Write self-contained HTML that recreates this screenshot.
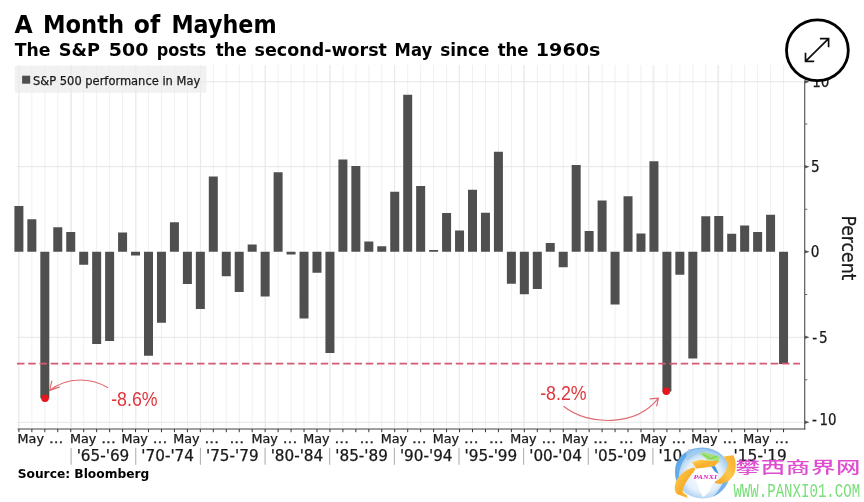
<!DOCTYPE html>
<html lang="en"><head><meta charset="utf-8"><title>A Month of Mayhem</title>
<style>html,body{margin:0;padding:0;background:#fff}body{width:864px;height:502px;overflow:hidden}svg{display:block}.b{font-family:"DejaVu Sans", "Liberation Sans", sans-serif;font-weight:bold;fill:#000}.c{font-family:"DejaVu Sans Condensed", "DejaVu Sans", "Liberation Sans", sans-serif;fill:#1a1a1a;stroke:#1a1a1a;stroke-width:0.25px}.r{font-family:"Liberation Sans",sans-serif;fill:#e0353b}</style></head><body>
<svg width="864" height="502" viewBox="0 0 864 502">
<rect width="864" height="502" fill="#fff"/>
<defs><filter id="soft" x="0" y="0" width="864" height="502" filterUnits="userSpaceOnUse"><feGaussianBlur stdDeviation="0.4"/></filter></defs>
<g filter="url(#soft)">
<path d="M18.90 65V428M31.86 65V428M44.82 65V428M57.78 65V428M70.74 65V428M83.70 65V428M96.66 65V428M109.62 65V428M122.58 65V428M135.54 65V428M148.50 65V428M161.46 65V428M174.42 65V428M187.38 65V428M200.34 65V428M213.30 65V428M226.26 65V428M239.22 65V428M252.18 65V428M265.14 65V428M278.10 65V428M291.06 65V428M304.02 65V428M316.98 65V428M329.94 65V428M342.90 65V428M355.86 65V428M368.82 65V428M381.78 65V428M394.74 65V428M407.70 65V428M420.66 65V428M433.62 65V428M446.58 65V428M459.54 65V428M472.50 65V428M485.46 65V428M498.42 65V428M511.38 65V428M524.34 65V428M537.30 65V428M550.26 65V428M563.22 65V428M576.18 65V428M589.14 65V428M602.10 65V428M615.06 65V428M628.02 65V428M640.98 65V428M653.94 65V428M666.90 65V428M679.86 65V428M692.82 65V428M705.78 65V428M718.74 65V428M731.70 65V428M744.66 65V428M757.62 65V428M770.58 65V428M783.54 65V428" stroke="#f0f0f0" stroke-width="1" fill="none"/>
<path d="M71.30 65V428M135.95 65V428M200.60 65V428M265.25 65V428M329.90 65V428M394.55 65V428M459.20 65V428M523.85 65V428M588.50 65V428M653.15 65V428M717.80 65V428M18.9 65V428" stroke="#e9e9e9" stroke-width="1" fill="none"/>
<path d="M17 81.80H804M17 166.70H804M17 337.30H804M17 422.30H804" stroke="#e6e6e6" stroke-width="1" fill="none"/>
<rect x="14.8" y="65.8" width="191.8" height="26.9" rx="1.5" fill="#ebebeb" fill-opacity="0.72"/>
<rect x="22.1" y="75.7" width="8.1" height="8" fill="#4f4f4f"/>
<text class="c" x="33" y="84.8" font-size="12.8" textLength="167.2" lengthAdjust="spacingAndGlyphs">S&amp;P 500 performance in May</text>
<path d="M14.40 206.01h9.0V251.70h-9.0zM27.36 219.13h9.0V251.70h-9.0zM40.32 251.70h9.0V398.33h-9.0zM53.28 227.32h9.0V251.70h-9.0zM66.24 232.09h9.0V251.70h-9.0zM79.20 251.70h9.0V264.83h-9.0zM92.16 251.70h9.0V343.94h-9.0zM105.12 251.70h9.0V341.04h-9.0zM118.08 232.60h9.0V251.70h-9.0zM131.04 251.70h9.0V255.45h-9.0zM144.00 251.70h9.0V355.70h-9.0zM156.96 251.70h9.0V322.63h-9.0zM169.92 222.20h9.0V251.70h-9.0zM182.88 251.70h9.0V283.92h-9.0zM195.84 251.70h9.0V308.99h-9.0zM208.80 176.51h9.0V251.70h-9.0zM221.76 251.70h9.0V276.25h-9.0zM234.72 251.70h9.0V291.94h-9.0zM247.68 244.54h9.0V251.70h-9.0zM260.64 251.70h9.0V296.54h-9.0zM273.60 172.25h9.0V251.70h-9.0zM286.56 251.70h9.0V254.60h-9.0zM299.52 251.70h9.0V318.54h-9.0zM312.48 251.70h9.0V272.67h-9.0zM325.44 251.70h9.0V352.98h-9.0zM338.40 159.46h9.0V251.70h-9.0zM351.36 166.11h9.0V251.70h-9.0zM364.32 241.47h9.0V251.70h-9.0zM377.28 246.24h9.0V251.70h-9.0zM390.24 191.85h9.0V251.70h-9.0zM403.20 94.84h9.0V251.70h-9.0zM416.16 185.89h9.0V251.70h-9.0zM429.12 249.99h9.0V251.70h-9.0zM442.08 213.00h9.0V251.70h-9.0zM455.04 230.56h9.0V251.70h-9.0zM468.00 189.81h9.0V251.70h-9.0zM480.96 212.66h9.0V251.70h-9.0zM493.92 151.79h9.0V251.70h-9.0zM506.88 251.70h9.0V283.75h-9.0zM519.84 251.70h9.0V294.32h-9.0zM532.80 251.70h9.0V289.04h-9.0zM545.76 243.00h9.0V251.70h-9.0zM558.72 251.70h9.0V267.22h-9.0zM571.68 164.92h9.0V251.70h-9.0zM584.64 231.07h9.0V251.70h-9.0zM597.60 200.55h9.0V251.70h-9.0zM610.56 251.70h9.0V304.38h-9.0zM623.52 196.29h9.0V251.70h-9.0zM636.48 233.46h9.0V251.70h-9.0zM649.44 161.16h9.0V251.70h-9.0zM662.40 251.70h9.0V391.51h-9.0zM675.36 251.70h9.0V274.72h-9.0zM688.32 251.70h9.0V358.60h-9.0zM701.28 216.24h9.0V251.70h-9.0zM714.24 215.89h9.0V251.70h-9.0zM727.20 233.80h9.0V251.70h-9.0zM740.16 225.61h9.0V251.70h-9.0zM753.12 231.92h9.0V251.70h-9.0zM766.08 214.87h9.0V251.70h-9.0zM779.04 251.70h9.0V363.89h-9.0z" fill="#4f4f4f"/>
<path d="M17 363.6H800" stroke="#d35a70" stroke-width="1.9" stroke-dasharray="7.5 3.75" fill="none"/>
<path d="M17.5 429H805.3" stroke="#444" stroke-width="1.2" fill="none"/>
<path d="M804.7 80.5V429.5" stroke="#5a5a5a" stroke-width="1.2" fill="none"/>
<path d="M18.90 429V432.2M31.86 429V432.2M44.82 429V432.2M57.78 429V432.2M70.74 429V432.2M83.70 429V432.2M96.66 429V432.2M109.62 429V432.2M122.58 429V432.2M135.54 429V432.2M148.50 429V432.2M161.46 429V432.2M174.42 429V432.2M187.38 429V432.2M200.34 429V432.2M213.30 429V432.2M226.26 429V432.2M239.22 429V432.2M252.18 429V432.2M265.14 429V432.2M278.10 429V432.2M291.06 429V432.2M304.02 429V432.2M316.98 429V432.2M329.94 429V432.2M342.90 429V432.2M355.86 429V432.2M368.82 429V432.2M381.78 429V432.2M394.74 429V432.2M407.70 429V432.2M420.66 429V432.2M433.62 429V432.2M446.58 429V432.2M459.54 429V432.2M472.50 429V432.2M485.46 429V432.2M498.42 429V432.2M511.38 429V432.2M524.34 429V432.2M537.30 429V432.2M550.26 429V432.2M563.22 429V432.2M576.18 429V432.2M589.14 429V432.2M602.10 429V432.2M615.06 429V432.2M628.02 429V432.2M640.98 429V432.2M653.94 429V432.2M666.90 429V432.2M679.86 429V432.2M692.82 429V432.2M705.78 429V432.2M718.74 429V432.2M731.70 429V432.2M744.66 429V432.2M757.62 429V432.2M770.58 429V432.2M783.54 429V432.2" stroke="#333" stroke-width="1" fill="none"/>
<path d="M804.7 80.10L809.6 81.80L804.7 83.50ZM804.7 165.00L809.6 166.70L804.7 168.40ZM804.7 250.00L809.6 251.70L804.7 253.40ZM804.7 335.60L809.6 337.30L804.7 339.00ZM804.7 420.60L809.6 422.30L804.7 424.00Z" fill="#555"/>
<path d="M804.7 124.06h2.6M804.7 209.29h2.6M804.7 294.51h2.6M804.7 379.75h2.6" stroke="#666" stroke-width="1" fill="none"/>
<text class="c" x="812.2" y="87.3" font-size="15.1">10</text>
<text class="c" x="810.9" y="172.2" font-size="15.1">5</text>
<text class="c" x="810.7" y="256.9" font-size="15.1">0</text>
<text class="c" y="343" font-size="15.1"><tspan x="812.2">-</tspan><tspan x="818.9">5</tspan></text>
<text class="c" y="424.8" font-size="15.1"><tspan x="812.1">-</tspan><tspan x="819.4" textLength="17" lengthAdjust="spacingAndGlyphs">10</tspan></text>
<text class="c" transform="translate(842.4 215.4) rotate(90)" font-size="19.6" textLength="65" lengthAdjust="spacingAndGlyphs">Percent</text>
<text class="c" y="443.4" font-size="12.6" stroke="#1a1a1a" stroke-width="0.3"><tspan x="17.60" textLength="26.4" lengthAdjust="spacingAndGlyphs">May</tspan> <tspan x="49.00" textLength="14.4" lengthAdjust="spacingAndGlyphs">...</tspan></text>
<text class="c" y="443.4" font-size="12.6" stroke="#1a1a1a" stroke-width="0.3"><tspan x="69.90" textLength="26.4" lengthAdjust="spacingAndGlyphs">May</tspan> <tspan x="101.30" textLength="14.4" lengthAdjust="spacingAndGlyphs">...</tspan></text>
<text class="c" y="443.4" font-size="12.6" stroke="#1a1a1a" stroke-width="0.3"><tspan x="121.40" textLength="26.4" lengthAdjust="spacingAndGlyphs">May</tspan> <tspan x="152.80" textLength="14.4" lengthAdjust="spacingAndGlyphs">...</tspan></text>
<text class="c" y="443.4" font-size="12.6" stroke="#1a1a1a" stroke-width="0.3"><tspan x="173.15" textLength="26.4" lengthAdjust="spacingAndGlyphs">May</tspan> <tspan x="204.55" textLength="14.4" lengthAdjust="spacingAndGlyphs">...</tspan></text>
<text class="c" y="443.4" font-size="12.6" stroke="#1a1a1a" stroke-width="0.3"><tspan x="251.40" textLength="26.4" lengthAdjust="spacingAndGlyphs">May</tspan> <tspan x="282.80" textLength="14.4" lengthAdjust="spacingAndGlyphs">...</tspan></text>
<text class="c" y="443.4" font-size="12.6" stroke="#1a1a1a" stroke-width="0.3"><tspan x="303.15" textLength="26.4" lengthAdjust="spacingAndGlyphs">May</tspan> <tspan x="334.55" textLength="14.4" lengthAdjust="spacingAndGlyphs">...</tspan></text>
<text class="c" y="443.4" font-size="12.6" stroke="#1a1a1a" stroke-width="0.3"><tspan x="380.65" textLength="26.4" lengthAdjust="spacingAndGlyphs">May</tspan> <tspan x="412.05" textLength="14.4" lengthAdjust="spacingAndGlyphs">...</tspan></text>
<text class="c" y="443.4" font-size="12.6" stroke="#1a1a1a" stroke-width="0.3"><tspan x="432.65" textLength="26.4" lengthAdjust="spacingAndGlyphs">May</tspan> <tspan x="464.05" textLength="14.4" lengthAdjust="spacingAndGlyphs">...</tspan></text>
<text class="c" y="443.4" font-size="12.6" stroke="#1a1a1a" stroke-width="0.3"><tspan x="510.15" textLength="26.4" lengthAdjust="spacingAndGlyphs">May</tspan> <tspan x="541.55" textLength="14.4" lengthAdjust="spacingAndGlyphs">...</tspan></text>
<text class="c" y="443.4" font-size="12.6" stroke="#1a1a1a" stroke-width="0.3"><tspan x="561.90" textLength="26.4" lengthAdjust="spacingAndGlyphs">May</tspan> <tspan x="593.30" textLength="14.4" lengthAdjust="spacingAndGlyphs">...</tspan></text>
<text class="c" y="443.4" font-size="12.6" stroke="#1a1a1a" stroke-width="0.3"><tspan x="640.15" textLength="26.4" lengthAdjust="spacingAndGlyphs">May</tspan> <tspan x="671.55" textLength="14.4" lengthAdjust="spacingAndGlyphs">...</tspan></text>
<text class="c" y="443.4" font-size="12.6" stroke="#1a1a1a" stroke-width="0.3"><tspan x="691.15" textLength="26.4" lengthAdjust="spacingAndGlyphs">May</tspan> <tspan x="722.55" textLength="14.4" lengthAdjust="spacingAndGlyphs">...</tspan></text>
<text class="c" y="443.4" font-size="12.6" stroke="#1a1a1a" stroke-width="0.3"><tspan x="743.15" textLength="26.4" lengthAdjust="spacingAndGlyphs">May</tspan> <tspan x="774.55" textLength="14.4" lengthAdjust="spacingAndGlyphs">...</tspan></text>
<text class="c" x="229.50" y="443.4" font-size="12.6" stroke="#1a1a1a" stroke-width="0.3" textLength="14.6" lengthAdjust="spacingAndGlyphs">...</text>
<text class="c" x="359.50" y="443.4" font-size="12.6" stroke="#1a1a1a" stroke-width="0.3" textLength="14.6" lengthAdjust="spacingAndGlyphs">...</text>
<text class="c" x="489.00" y="443.4" font-size="12.6" stroke="#1a1a1a" stroke-width="0.3" textLength="14.6" lengthAdjust="spacingAndGlyphs">...</text>
<text class="c" x="619.00" y="443.4" font-size="12.6" stroke="#1a1a1a" stroke-width="0.3" textLength="14.6" lengthAdjust="spacingAndGlyphs">...</text>
<path d="M71.10 447.8V464.8M135.75 447.8V464.8M200.40 447.8V464.8M265.05 447.8V464.8M329.70 447.8V464.8M394.35 447.8V464.8M459.00 447.8V464.8M523.65 447.8V464.8M588.30 447.8V464.8M652.95 447.8V464.8M717.60 447.8V464.8" stroke="#aaa" stroke-width="1" fill="none"/>
<text class="c" x="76.70" y="460.9" font-size="15.1" textLength="52.6" lengthAdjust="spacingAndGlyphs">'65-'69</text>
<text class="c" x="141.35" y="460.9" font-size="15.1" textLength="52.6" lengthAdjust="spacingAndGlyphs">'70-'74</text>
<text class="c" x="206.00" y="460.9" font-size="15.1" textLength="52.6" lengthAdjust="spacingAndGlyphs">'75-'79</text>
<text class="c" x="270.65" y="460.9" font-size="15.1" textLength="52.6" lengthAdjust="spacingAndGlyphs">'80-'84</text>
<text class="c" x="335.30" y="460.9" font-size="15.1" textLength="52.6" lengthAdjust="spacingAndGlyphs">'85-'89</text>
<text class="c" x="399.95" y="460.9" font-size="15.1" textLength="52.6" lengthAdjust="spacingAndGlyphs">'90-'94</text>
<text class="c" x="464.60" y="460.9" font-size="15.1" textLength="52.6" lengthAdjust="spacingAndGlyphs">'95-'99</text>
<text class="c" x="529.25" y="460.9" font-size="15.1" textLength="52.6" lengthAdjust="spacingAndGlyphs">'00-'04</text>
<text class="c" x="593.90" y="460.9" font-size="15.1" textLength="52.6" lengthAdjust="spacingAndGlyphs">'05-'09</text>
<text class="c" x="658.55" y="460.9" font-size="15.1" textLength="52.6" lengthAdjust="spacingAndGlyphs">'10-'14</text>
<text class="c" x="733.6" y="460.9" font-size="15.1" textLength="53.2" lengthAdjust="spacingAndGlyphs">'15-'19</text>
<circle cx="45" cy="398.2" r="3.8" fill="#e8141c"/>
<circle cx="666.3" cy="391.2" r="3.8" fill="#e8141c"/>
<path d="M108 387.8C92 378 68 376 49.6 390.5M51.9 380.7L49.6 390.5L59.8 386.9" stroke="#e06a70" stroke-width="1.15" fill="none"/>
<path d="M563.5 406.3C588 426 636 427 658.4 398.2M649.6 398.9L658.4 398.2L656.6 406.3" stroke="#e06a70" stroke-width="1.15" fill="none"/>
<text class="r" x="111.2" y="405.9" font-size="19.6" textLength="46.4" lengthAdjust="spacingAndGlyphs">-8.6%</text>
<text class="r" x="540.2" y="399.8" font-size="19.6" textLength="46.4" lengthAdjust="spacingAndGlyphs">-8.2%</text>
<text class="b" y="56" font-size="17.1"><tspan x="14.70" textLength="35.70" lengthAdjust="spacingAndGlyphs">The</tspan> <tspan x="58.80" textLength="41.20" lengthAdjust="spacingAndGlyphs">S&amp;P</tspan> <tspan x="108.80" textLength="39.60" lengthAdjust="spacingAndGlyphs">500</tspan> <tspan x="156.80" textLength="49.40" lengthAdjust="spacingAndGlyphs">posts</tspan> <tspan x="215.65" textLength="31.00" lengthAdjust="spacingAndGlyphs">the</tspan> <tspan x="254.60" textLength="132.30" lengthAdjust="spacingAndGlyphs">second-worst</tspan> <tspan x="394.60" textLength="37.55" lengthAdjust="spacingAndGlyphs">May</tspan> <tspan x="440.20" textLength="49.20" lengthAdjust="spacingAndGlyphs">since</tspan> <tspan x="497.65" textLength="30.75" lengthAdjust="spacingAndGlyphs">the</tspan> <tspan x="535.80" textLength="64.60" lengthAdjust="spacingAndGlyphs">1960s</tspan></text>
<text class="b" y="33.4" font-size="24"><tspan x="14.40" textLength="18.20" lengthAdjust="spacingAndGlyphs">A</tspan> <tspan x="43.00" textLength="81.20" lengthAdjust="spacingAndGlyphs">Month</tspan> <tspan x="133.80" textLength="26.40" lengthAdjust="spacingAndGlyphs">of</tspan> <tspan x="171.40" textLength="105.20" lengthAdjust="spacingAndGlyphs">Mayhem</tspan></text>
<text class="b" x="17.7" y="478" font-size="12" textLength="131.6" lengthAdjust="spacingAndGlyphs">Source: Bloomberg</text>
<ellipse cx="817.4" cy="50.2" rx="30.9" ry="30.4" fill="#fff" stroke="#000" stroke-width="2.8"/>
<path d="M805.5 61.4L828.6 38.6M819.9 38.6H828.6V47.3M805.5 52.7V61.4H814.2" stroke="#111" stroke-width="1.7" fill="none"/>
<defs>
<radialGradient id="gl" cx="0.52" cy="0.55" r="0.6"><stop offset="0" stop-color="#ffffff"/><stop offset="0.55" stop-color="#e3effa"/><stop offset="0.8" stop-color="#a9cff0"/><stop offset="1" stop-color="#4d9fe2"/></radialGradient>
<linearGradient id="og" x1="0" y1="0" x2="1" y2="1"><stop offset="0" stop-color="#ffd858"/><stop offset="0.5" stop-color="#f9ae2c"/><stop offset="1" stop-color="#f8bd3e"/></linearGradient>
<linearGradient id="og2" x1="1" y1="0" x2="0" y2="1"><stop offset="0" stop-color="#f9ab28"/><stop offset="0.5" stop-color="#fcc84a"/><stop offset="1" stop-color="#f6a224"/></linearGradient>
<filter id="bl" x="-10%" y="-10%" width="120%" height="120%"><feGaussianBlur stdDeviation="0.5"/></filter>
</defs>
<g filter="url(#bl)">
<ellipse cx="704.5" cy="472.3" rx="29" ry="27" fill="#fff" opacity="0.95"/>
<ellipse cx="702.5" cy="473" rx="27.6" ry="25.4" fill="url(#gl)"/>
<path d="M676 464C679 456 686 450 696 448C690 452 684 458 681 466C678 474 678 482 681 490C676 484 674 472 676 464Z" fill="#4f9fe3" opacity="0.75"/>
<path d="M686 452C692 449 702 448 710 450C700 452 692 456 687 461Z" fill="#9fcbf0" opacity="0.8"/>
<path d="M729 478C727 486 721 493 713 497C718 491 722 486 724 480Z" fill="#5aa6e6" opacity="0.8"/>
<path d="M695 470C700 467 712 467 717 470C720 476 716 481 712 485C710 491 706 496 703 497C700 492 698 487 697 482C694 479 693 474 695 470Z" fill="#ffffff" opacity="0.95"/>
<path d="M711 466C713 469 715 473 718.5 473.5C717 469 715 466 713 464Z" fill="#4a97dc"/>
<path d="M699.7 453.6L704 452.2L719.4 456.4L718.8 461.3L707.5 460Z" fill="#a3e27a"/>
<path d="M703 454.5L711 458.5L717 456" stroke="#6ccb48" stroke-width="0.9" fill="none"/>
<path d="M691.9 461.9L700.3 459.7L707.5 460.6L719.4 461.1L714.7 466L703.9 467.8L696.1 468.5Z" fill="url(#og)"/>
<path d="M723.6 456.4L733.2 455.2C735.8 459 736.4 466 735 472C733 478 728 482.5 720.6 484L715.2 483.3L715.2 481.5C719 480 723 476 726 470.5C727.8 466 727.8 461 723.6 456.4Z" fill="url(#og2)"/>
<path d="M694 467.3C690 468.5 686 470.5 683.6 472.2C680 475 677.5 478 676 481.5C674.6 485 674.2 489 675.6 492.2C676.6 494 678 494.6 680 495.2L687.7 497.9L687 495.4L682.6 492C682.6 490 683.2 488 684.1 486.3C685.4 483 687 480.5 688.9 477.9C690.5 475.8 692.3 473.6 695.2 469.6Z" fill="url(#og)"/>
</g>
<text x="693.6" y="478.6" font-family='"Liberation Serif", serif' font-weight="bold" font-style="italic" font-size="5.6" fill="#e51fc4" textLength="23.4" lengthAdjust="spacingAndGlyphs">PANXI</text>
<g filter="url(#bl)">
<text transform="translate(735.6 473.4) scale(1 0.66)" font-family='"Liberation Sans", "Noto Sans CJK SC", sans-serif' font-size="24.4" font-weight="500" fill="#de50d0" textLength="124.8" lengthAdjust="spacing">攀西商界网</text>
<text transform="translate(733.4 496.7) scale(0.66 1)" font-family='"Liberation Mono", monospace' font-size="20.4" fill="#78de78" textLength="192" lengthAdjust="spacingAndGlyphs">WWW.PANXI01.COM</text>
</g>

</g>
</svg></body></html>
